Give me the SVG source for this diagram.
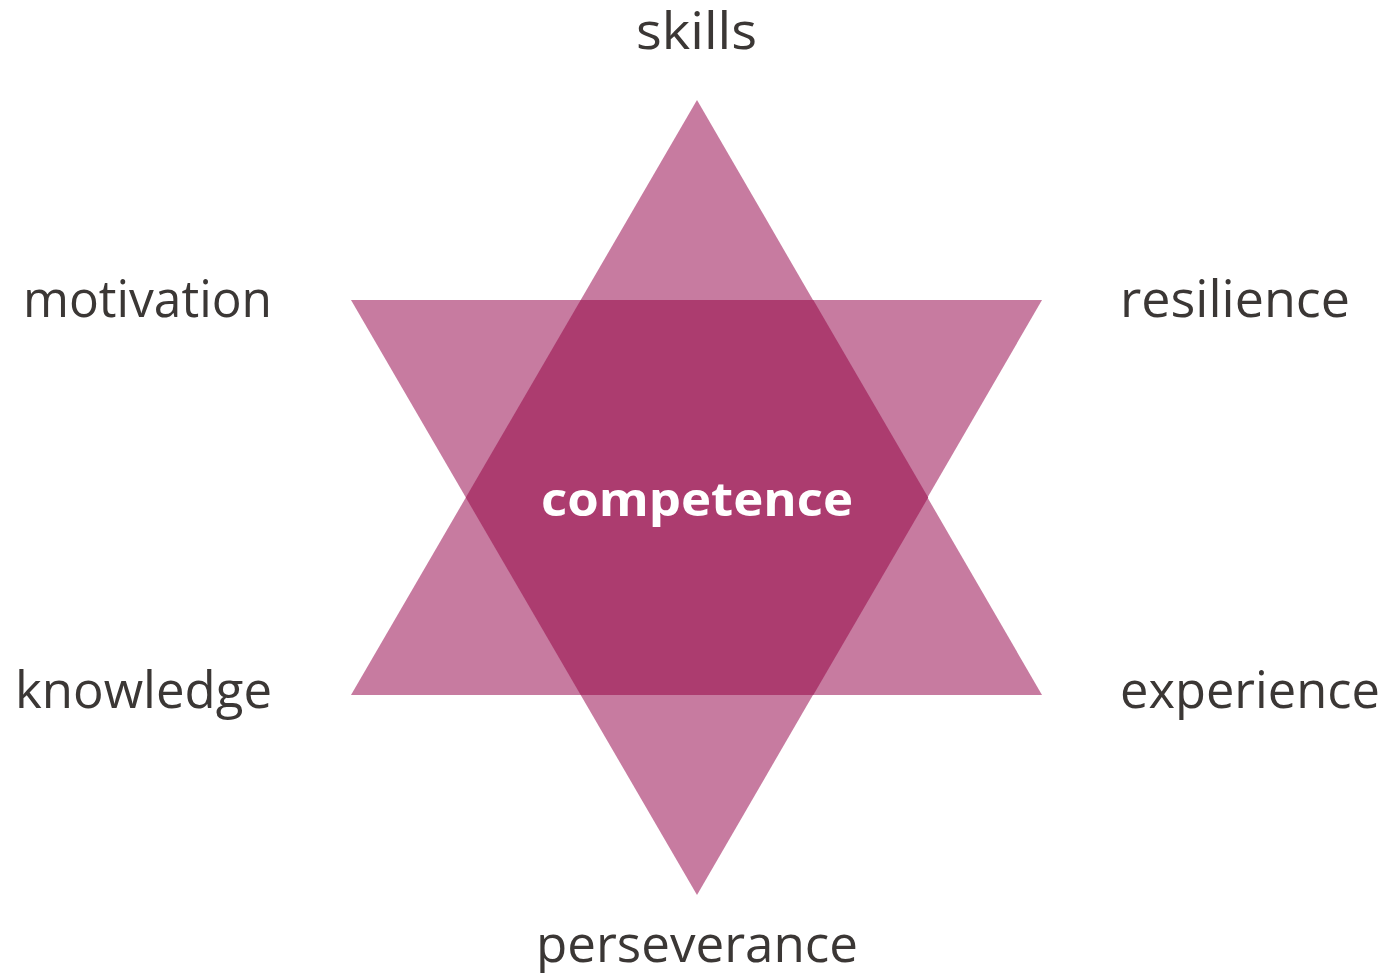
<svg xmlns="http://www.w3.org/2000/svg" width="1393" height="973" viewBox="0 0 1393 973">
<style>
.lbl{font-family:"Open Sans","Liberation Sans",sans-serif;font-size:52px;fill:#3b3735;}
.tri{fill:#c77ba0;}
.core{fill:#ac3c6f;}
.ctr{font-family:"Open Sans","Liberation Sans",sans-serif;font-size:46px;font-weight:bold;fill:#ffffff;}
</style>
<rect width="1393" height="973" fill="#ffffff"/>
<g id="star">
<polygon class="tri" points="697,100 1042,695 351,695"/>
<polygon class="tri" points="351,300 1042,300 697,895"/>
<polygon class="core" points="580.7,300 813.3,300 928.2,497.5 813.3,695 580.7,695 465.8,497.5"/>
</g>
<g id="competence"><text class="ctr" x="697" y="516" text-anchor="middle" textLength="312" lengthAdjust="spacingAndGlyphs">competence</text></g>
<g id="skills"><text class="lbl" x="636" y="49" textLength="121" lengthAdjust="spacingAndGlyphs">skills</text></g>
<g id="motivation"><text class="lbl" x="23" y="317" textLength="249" lengthAdjust="spacingAndGlyphs">motivation</text></g>
<g id="resilience"><text class="lbl" x="1120" y="317" textLength="230" lengthAdjust="spacingAndGlyphs">resilience</text></g>
<g id="knowledge"><text class="lbl" x="15" y="708" textLength="257" lengthAdjust="spacingAndGlyphs">knowledge</text></g>
<g id="experience"><text class="lbl" x="1120" y="708" textLength="260" lengthAdjust="spacingAndGlyphs">experience</text></g>
<g id="perseverance"><text class="lbl" x="536" y="962" textLength="322" lengthAdjust="spacingAndGlyphs">perseverance</text></g>
</svg>
